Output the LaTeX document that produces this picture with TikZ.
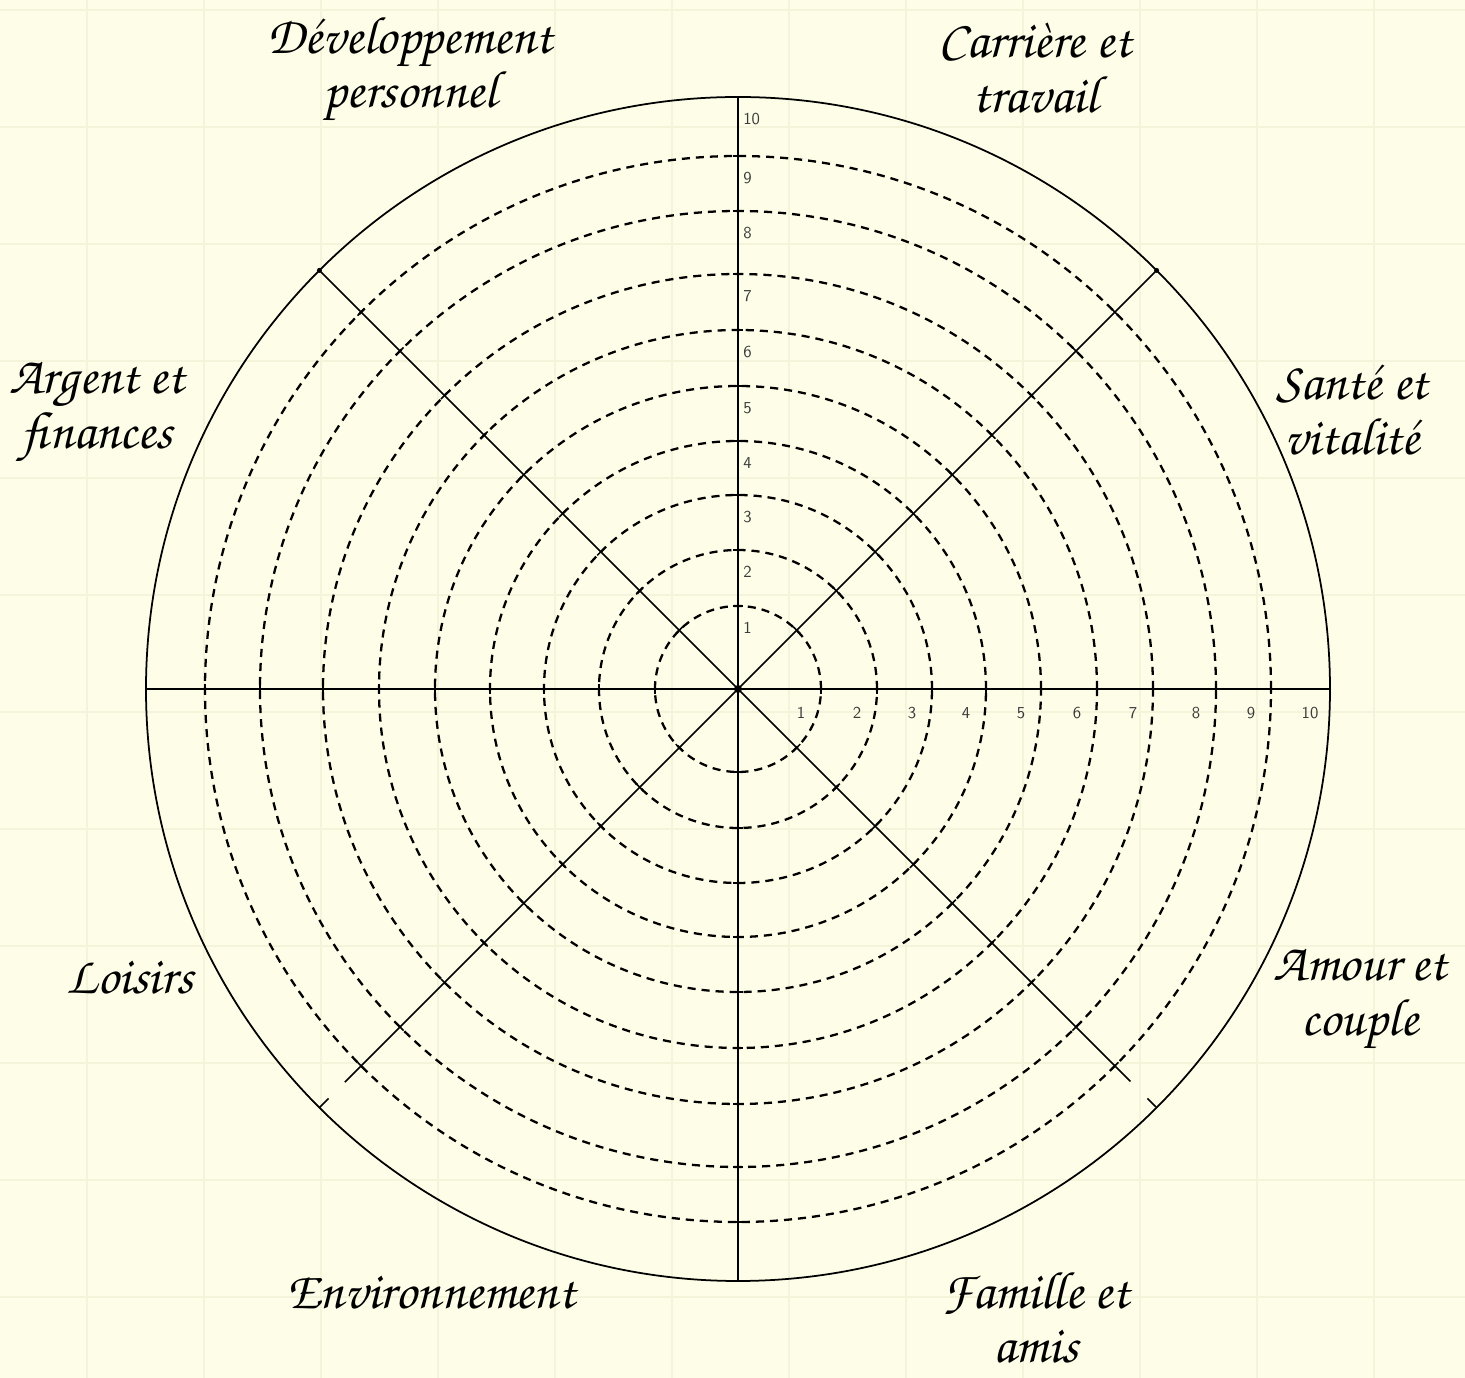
\documentclass[tikz,border=0pt]{standalone}
\usepackage[T1,TU]{fontenc}
\definecolor{paper}{HTML}{FEFEE8}
\definecolor{gridc}{HTML}{F4F4DA}
\definecolor{numc}{HTML}{3A3A3A}
\newcommand{\wheelfont}{\fontencoding{T1}\fontfamily{pzc}\fontseries{mb}\fontshape{it}\fontsize{30}{31}\selectfont}
\begin{document}
\begin{tikzpicture}[x=0.02cm,y=0.02cm,
  ring/.style={line width=1.3pt, dash pattern=on 4.6pt off 3.4pt},
  rim/.style={line width=1.0pt},
  spoke/.style={line width=0.9pt},
  tickmark/.style={line width=0.9pt},
  num/.style={font=\sffamily\fontsize{9.5}{9.5}\selectfont, text=numc, inner sep=0pt},
  cat/.style={font=\wheelfont, align=center, inner sep=0pt}]
\fill[paper] (-738,-689) rectangle (727,689);
\useasboundingbox (-738,-689) rectangle (727,689);
% faint paper grid
\foreach \gx in {-651,-534,...,636} \draw[gridc, line width=0.6pt] (\gx,-689) -- (\gx,689);
\foreach \gy in {679,562,...,-608} \draw[gridc, line width=0.6pt] (-738,\gy) -- (727,\gy);
% centre and spoke ends
\coordinate (O) at (0,0);
\coordinate (E) at (0:592);
\coordinate (N) at (90:592);
\coordinate (W) at (180:592);
\coordinate (S) at (270:592);
\coordinate (NE) at (45:592);
\coordinate (NW) at (135:592);
\coordinate (SEa) at (-45:555);
\coordinate (SEb) at (-45:579);
\coordinate (SEc) at (-45:591);
\coordinate (SWa) at (-135:556);
\coordinate (SWb) at (-135:579);
\coordinate (SWc) at (-135:592);
% dashed rings
\foreach \r in {83,139,194,248,303,359,415,478,533}
  \draw[ring] (O) circle[radius=\r];
% outer rim
\draw[rim] (O) circle[radius=592];
% spokes
\draw[spoke] (W) -- (E);
\draw[spoke] (S) -- (N);
\draw[spoke] (O) -- (NE);
\draw[spoke] (O) -- (NW);
\draw[spoke] (O) -- (SEa);
\draw[spoke] (O) -- (SWa);
\draw[spoke] (SEb) -- (SEc);
\draw[spoke] (SWb) -- (SWc);
% tick marks where spokes cross rings
\foreach \a in {0,45,90,135,180,225,270,315}
  \foreach \r in {83,139,194,248,303,359,415,478,533}
    \draw[tickmark, rotate=\a] (\r,-5) -- (\r,5);
\fill (O) circle[radius=4];
\fill (NW) circle[radius=2.5];
\fill (NE) circle[radius=2.5];
% scale numbers
\foreach \r/\i in {83/1,139/2,194/3,248/4,303/5,359/6,415/7,478/8,533/9,592/10}{
  \node[num, anchor=west] (v\i) at (5,\r-22) {\i};
  \node[num] (h\i) at (\r-20,-24) {\i};
}
% category labels
\node[cat] (dev) at (-328,619) {D\'eveloppement\\personnel};
\node[cat] (car) at (297,621) {Carri\`ere et\\travail};
\node[cat] (arg) at (-641,276) {Argent et\\finances};
\node[cat] (san) at (614,279) {Sant\'e et\\vitalit\'e};
\node[cat] (loi) at (-608,-289) {Loisirs};
\node[cat] (amo) at (622,-311) {Amour et\\couple};
\node[cat] (env) at (-307,-604) {Environnement};
\node[cat] (fam) at (298,-628) {Famille et\\amis};
\end{tikzpicture}
\end{document}
